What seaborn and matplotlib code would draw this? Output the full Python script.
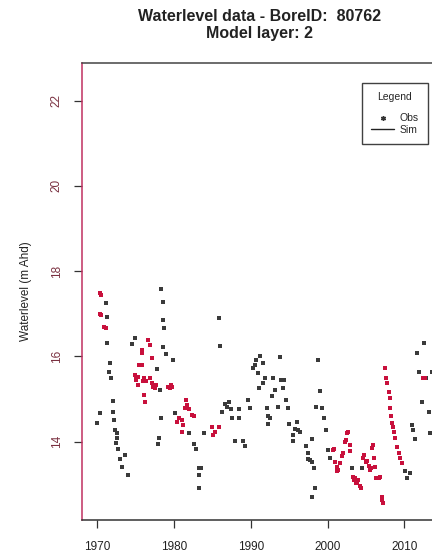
import matplotlib
matplotlib.use("Agg")
import matplotlib.pyplot as plt
import seaborn as sns
import pandas as pd
from matplotlib.lines import Line2D

# ---- data (decimal year, water level m AHD) ----
dark_year = [1969.9, 1970.35, 1971.1, 1971.3, 1971.3, 1971.65, 1971.57, 1971.8, 1972.0, 1972.0,
             1972.2, 1972.3, 1972.5, 1972.6, 1972.4, 1972.7, 1972.95, 1973.6, 1973.2, 1974.0,
             1974.5, 1974.9, 1977.8, 1978.2, 1978.26, 1978.5, 1978.5, 1978.7, 1978.6, 1978.9,
             1979.9, 1978.3, 1978.0, 1977.9, 1980.1, 1982.0, 1982.6, 1982.9, 1983.3, 1983.5,
             1983.3, 1983.3, 1983.9, 1985.8, 1986.0,
             1986.2, 1986.65, 1986.9, 1987.1, 1987.4, 1987.5, 1987.95, 1988.4, 1988.5, 1988.96,
             1989.2, 1989.7, 1989.9, 1990.35, 1990.6, 1990.7, 1991.0, 1991.2, 1991.65, 1991.1,
             1991.65, 1991.9, 1992.1, 1992.3, 1992.5, 1992.3, 1992.7, 1992.95, 1993.2, 1993.6,
             1993.8, 1994.0, 1994.3, 1994.2, 1994.6, 1994.8, 1995.0, 1995.5, 1995.7, 1996.0,
             1996.2, 1996.4, 1995.5, 1997.2, 1997.4, 1997.5, 1997.7, 1997.96, 1998.2, 1997.96,
             1998.4, 1998.0, 1998.5, 1998.8, 1999.0, 1999.3, 1999.6, 1999.8, 2000.05, 2000.35,
             2003.2, 2004.5, 2010.1, 2010.35, 2010.7, 2011.0, 2011.2, 2011.4, 2011.65, 2011.9,
             2012.3, 2012.6, 2012.9, 2013.2, 2013.3, 2013.6, 2014.0]
dark_level = [14.43, 14.67, 17.25, 16.93, 16.32, 15.84, 15.64, 15.49, 14.96, 14.70,
              14.50, 14.27, 14.20, 14.08, 13.96, 13.82, 13.60, 13.69, 13.41, 13.22,
              16.29, 16.43, 15.70, 15.20, 17.58, 17.27, 16.86, 16.66, 16.21, 16.06,
              15.92, 14.55, 14.08, 13.95, 14.67, 14.21, 13.95, 13.82, 13.37, 13.37,
              13.22, 12.90, 14.21, 16.90, 16.25,
              14.70, 14.88, 14.82, 14.92, 14.76, 14.55, 14.02, 14.76, 14.55, 14.02,
              13.90, 14.98, 14.78, 15.72, 15.80, 15.92, 15.60, 16.01, 15.84, 15.25,
              15.37, 15.49, 14.78, 14.59, 14.55, 14.41, 15.06, 15.49, 15.21, 14.82,
              15.99, 15.45, 15.45, 15.25, 14.98, 14.78, 14.41, 14.16, 14.29, 14.45,
              14.27, 14.23, 14.02, 13.90, 13.73, 13.59, 13.57, 13.53, 13.37, 14.05,
              12.90, 12.71, 14.82, 15.92, 15.19, 14.78, 14.55, 14.27, 13.80, 13.61,
              13.37, 13.37, 13.30, 13.14, 13.27, 14.39, 14.27, 14.05, 16.07, 15.64,
              14.94, 16.32, 15.49, 14.70, 14.21, 15.64, 16.20]

red_year = [1970.3, 1970.5, 1970.3, 1970.5, 1970.9, 1971.1,
            1975.8, 1975.8, 1975.4, 1975.8, 1974.9, 1975.1, 1975.0, 1975.3, 1975.3, 1975.9,
            1976.1, 1976.3, 1976.87, 1977.1, 1977.3, 1977.5, 1977.7, 1976.1, 1976.2, 1976.65,
            1976.8, 1977.1, 1979.26, 1979.5, 1979.7, 1979.6,
            1980.35, 1980.6, 1981.0, 1981.1, 1981.0, 1981.4, 1981.57, 1981.7, 1982.0, 1982.4,
            1982.65, 1984.9, 1985.1, 1985.35, 1985.8,
            2000.7, 2000.9, 2001.0, 2001.2, 2001.3, 2001.4, 2001.65, 2001.9, 2002.0, 2002.3,
            2002.4, 2002.6, 2002.7, 2002.9, 2002.96, 2003.3, 2003.4, 2003.6, 2003.7, 2003.8,
            2004.0, 2004.3, 2004.2, 2004.6, 2004.8, 2005.05, 2005.1, 2005.35, 2005.5, 2005.65,
            2005.8, 2005.9, 2006.1, 2006.2, 2006.35, 2006.65, 2006.9, 2007.1, 2007.2, 2007.15,
            2007.5, 2007.65, 2007.8, 2007.95, 2008.1, 2008.2, 2008.3, 2008.4, 2008.5, 2008.7,
            2008.8, 2009.05, 2009.3, 2009.4, 2009.7, 2012.5, 2012.7]
red_level = [17.48, 17.44, 17.00, 16.96, 16.70, 16.66,
             16.15, 16.07, 15.80, 15.80, 15.56, 15.49, 15.45, 15.52, 15.33, 15.41,
             15.49, 15.41, 15.49, 15.37, 15.29, 15.25, 15.33, 15.10, 14.94, 16.39,
             16.27, 15.96, 15.29, 15.25, 15.29, 15.33,
             14.45, 14.55, 14.51, 14.39, 14.23, 14.78, 14.98, 14.86, 14.76, 14.63,
             14.59, 14.35, 14.16, 14.23, 14.35,
             13.80, 13.82, 13.53, 13.41, 13.30, 13.33, 13.49, 13.65, 13.73, 13.98,
             14.04, 14.21, 14.23, 13.92, 13.77, 13.18, 13.10, 13.14, 13.02, 13.06,
             13.10, 12.92, 12.95, 13.61, 13.69, 13.51, 13.55, 13.43, 13.33, 13.37,
             13.84, 13.92, 13.61, 13.41, 13.14, 13.14, 13.18, 12.71, 12.55, 12.63,
             15.72, 15.49, 15.38, 15.17, 15.02, 14.78, 14.59, 14.43, 14.35, 14.23,
             14.08, 13.88, 13.74, 13.61, 13.49, 15.49, 15.49]

x_ticks = [1970, 1980, 1990, 2000, 2010]
y_ticks = [14, 16, 18, 20, 22]
title_text = "Waterlevel data - BoreID:  80762\nModel layer: 2"
y_label = "Waterlevel (m Ahd)"
legend_labels = ["Obs", "Sim"]

sns.set_style("white")
plt.rcParams["font.family"] = ["Liberation Sans", "DejaVu Sans"]

W, H = 432, 557
fig = plt.figure(figsize=(W / 100, H / 100), dpi=100)
left, right, top, bottom = 82, 438, 62.7, 520
ax = fig.add_axes([left / W, 1 - bottom / H, (right - left) / W, (bottom - top) / H])

dark_df = pd.DataFrame({"year": dark_year, "level": dark_level})
red_df = pd.DataFrame({"year": red_year, "level": red_level})
sns.scatterplot(data=dark_df, x="year", y="level", ax=ax, marker="s", s=6,
                color="#3a3a3a", linewidth=0, legend=False)
sns.scatterplot(data=red_df, x="year", y="level", ax=ax, marker="s", s=7.5,
                color="#c8103c", linewidth=0, legend=False)

ax.set_xlim(1968.0, 2014.4)
ax.set_ylim(12.16, 22.89)
ax.set_xticks(x_ticks)
ax.set_yticks(y_ticks)
ax.set_xticklabels([str(v) for v in x_ticks], fontsize=8.5, color="#222222")
ax.set_yticklabels([str(v) for v in y_ticks], fontsize=8.5, rotation=90, va="center")
ax.tick_params(axis="both", bottom=True, left=True, length=6, width=0.9,
               direction="out", color="#333333")
ax.tick_params(axis="y", pad=8, labelcolor="#7a3040")
ax.tick_params(axis="x", pad=9, labelcolor="#222222")
ax.set_xlabel("")
ax.set_ylabel(y_label, fontsize=8.5, color="#222222", labelpad=13)

for side, col in [("left", "#c03060"), ("top", "#444444"), ("bottom", "#333333"), ("right", "#333333")]:
    ax.spines[side].set_visible(True)
    ax.spines[side].set_color(col)
    ax.spines[side].set_linewidth(1.1)

fig.text(260 / W, 1 - 25 / H, title_text, ha="center", va="center",
         fontsize=11.5, fontweight="bold", color="#222222", linespacing=1.15)

handles = [Line2D([], [], marker=(6, 2, 0), color="#333333", linestyle="none", markersize=3.5),
           Line2D([], [], color="#222222", linewidth=1)]
leg = ax.legend(handles, legend_labels, title="Legend", loc="upper right",
                bbox_to_anchor=((428 - left) / (right - left), 1 - (83 - top) / (bottom - top)),
                borderaxespad=0, fontsize=7.5, title_fontsize=7.5, frameon=True,
                fancybox=False, edgecolor="#111111", handlelength=2.2,
                handletextpad=0.5, labelspacing=0.15, borderpad=0.9)
leg.get_frame().set_linewidth(1.0)
leg._legend_box.sep = 8

fig.savefig("out.png", dpi=100)
